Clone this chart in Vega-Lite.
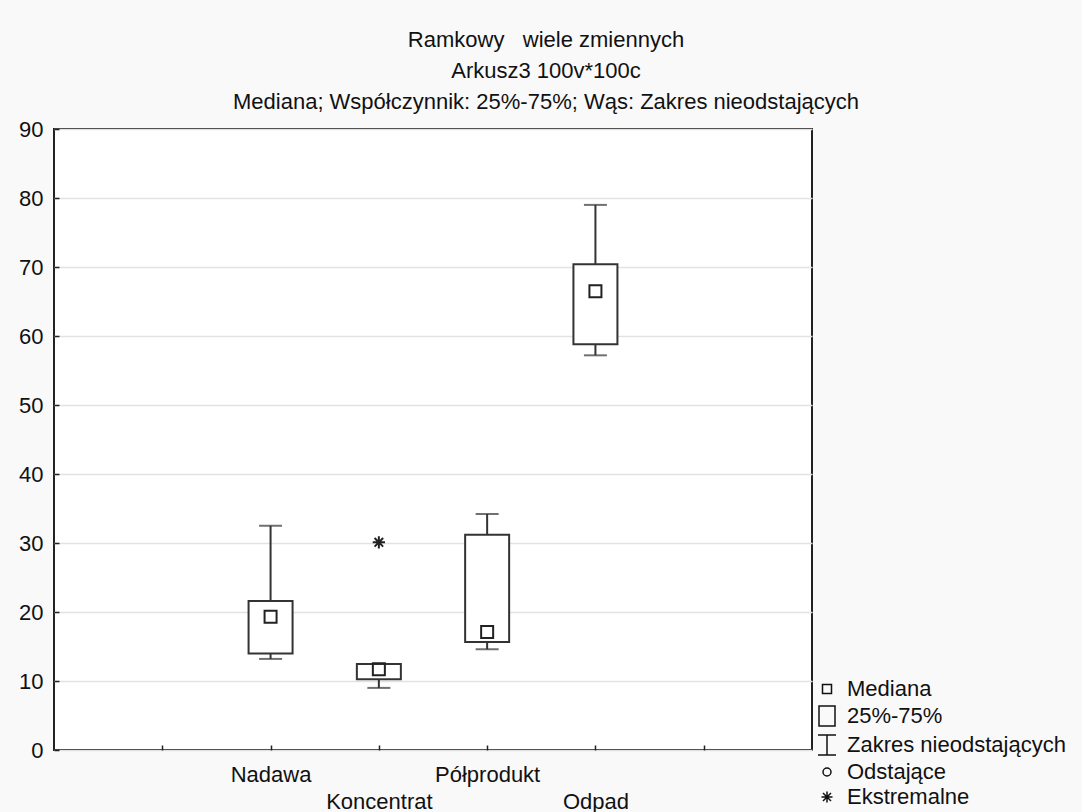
{
  "$schema": "https://vega.github.io/schema/vega-lite/v6.json",
  "width": 758,
  "height": 621,
  "autosize": {"type": "none"},
  "padding": {"left": 54, "top": 129, "right": 270, "bottom": 62},
  "background": "#f9f9f9",
  "config": {
    "font": "Liberation Sans",
    "view": {"fill": "white", "stroke": "#222222", "strokeWidth": 2}
  },
  "title": {
    "text": ["Ramkowy \u00a0 wiele zmiennych", "Arkusz3 100v*100c", "Mediana; Współczynnik: 25%-75%; Wąs: Zakres nieodstających"],
    "fontSize": 22,
    "fontWeight": "normal",
    "color": "#111111",
    "lineHeight": 31,
    "offset": 4,
    "dx": 113,
    "anchor": "middle"
  },
  "datasets": {
    "stats": [
      {"zmienna": "Nadawa", "min": 13.2, "q1": 14.0, "mediana": 19.3, "q3": 21.6, "max": 32.5},
      {"zmienna": "Koncentrat", "min": 9.0, "q1": 10.25, "mediana": 11.7, "q3": 12.45, "max": 12.45},
      {"zmienna": "Półprodukt", "min": 14.6, "q1": 15.65, "mediana": 17.1, "q3": 31.2, "max": 34.2},
      {"zmienna": "Odpad", "min": 57.2, "q1": 58.8, "mediana": 66.5, "q3": 70.4, "max": 79.0}
    ],
    "ekstremalne": [
      {"zmienna": "Koncentrat", "wartosc": 30.1}
    ],
    "legenda": [
      {"pozycja": "Mediana"},
      {"pozycja": "25%-75%"},
      {"pozycja": "Zakres nieodstających"},
      {"pozycja": "Odstające"},
      {"pozycja": "Ekstremalne"}
    ]
  },
  "encoding": {
    "x": {
      "field": "zmienna",
      "type": "nominal",
      "scale": {"type": "point", "domain": ["_a", "Nadawa", "Koncentrat", "Półprodukt", "Odpad", "_b"], "padding": 1},
      "axis": {
        "title": null,
        "labelAngle": 0,
        "labelExpr": "slice(datum.value, 0, 1) == '_' ? '' : (datum.value == 'Koncentrat' || datum.value == 'Odpad' ? ['', datum.value] : datum.value)",
        "labelFontSize": 22,
        "labelLineHeight": 27,
        "labelColor": "#111111",
        "labelPadding": 19,
        "labelBaseline": "top",
        "tickSize": -5,
        "tickColor": "#222222",
        "tickWidth": 1.5,
        "domain": false,
        "grid": false
      }
    }
  },
  "layer": [
    {
      "data": {"name": "stats"},
      "mark": {"type": "rule", "color": "#333333", "strokeWidth": 2},
      "encoding": {
        "y": {
          "field": "min", "type": "quantitative",
          "scale": {"domain": [0, 90], "nice": false},
          "axis": {
            "title": null,
            "values": [0, 10, 20, 30, 40, 50, 60, 70, 80, 90],
            "labelFontSize": 22,
            "labelColor": "#111111",
            "labelPadding": 16,
            "tickSize": -5,
            "tickColor": "#222222",
            "tickWidth": 1.5,
            "domain": false,
            "grid": true,
            "gridColor": "#e2e2e2",
            "gridWidth": 1.5
          }
        },
        "y2": {"field": "q1"}
      }
    },
    {
      "data": {"name": "stats"},
      "mark": {"type": "rule", "color": "#333333", "strokeWidth": 2},
      "encoding": {
        "y": {"field": "q3", "type": "quantitative"},
        "y2": {"field": "max"}
      }
    },
    {
      "data": {"name": "stats"},
      "mark": {"type": "tick", "color": "#333333", "size": 23, "thickness": 2},
      "encoding": {"y": {"field": "min", "type": "quantitative"}}
    },
    {
      "data": {"name": "stats"},
      "mark": {"type": "tick", "color": "#333333", "size": 23, "thickness": 2},
      "encoding": {"y": {"field": "max", "type": "quantitative"}}
    },
    {
      "data": {"name": "stats"},
      "mark": {"type": "bar", "width": 44, "fill": "white", "stroke": "#333333", "strokeWidth": 2},
      "encoding": {
        "y": {"field": "q1", "type": "quantitative"},
        "y2": {"field": "q3"}
      }
    },
    {
      "data": {"name": "stats"},
      "mark": {"type": "point", "shape": "square", "size": 144, "filled": false, "stroke": "#222222", "strokeWidth": 2, "opacity": 1},
      "encoding": {"y": {"field": "mediana", "type": "quantitative"}}
    },
    {
      "data": {"name": "ekstremalne"},
      "mark": {"type": "point", "shape": "M-1,0L1,0M0,-1L0,1M-0.7,-0.7L0.7,0.7M-0.7,0.7L0.7,-0.7", "size": 150, "filled": false, "stroke": "#222222", "strokeWidth": 2, "opacity": 1},
      "encoding": {"y": {"field": "wartosc", "type": "quantitative"}}
    },
    {
      "data": {"name": "legenda"},
      "mark": {"type": "point", "opacity": 0, "filled": false},
      "encoding": {
        "shape": {
          "field": "pozycja",
          "type": "nominal",
          "scale": {
            "domain": ["Mediana", "25%-75%", "Zakres nieodstających", "Odstające", "Ekstremalne"],
            "range": [
              "M-0.45,-0.45H0.45V0.45H-0.45Z",
              "M-0.8,-1H0.8V1H-0.8Z",
              "M-0.9,-1H0.9M0,-1V1M-0.9,1H0.9",
              "M0.4,0A0.4,0.4 0 1,1 -0.4,0A0.4,0.4 0 1,1 0.4,0",
              "M-0.55,0L0.55,0M0,-0.55L0,0.55M-0.4,-0.4L0.4,0.4M-0.4,0.4L0.4,-0.4"
            ]
          },
          "legend": {
            "title": null,
            "orient": "none",
            "legendX": 762,
            "legendY": 549,
            "padding": 0,
            "symbolSize": 400,
            "symbolOpacity": 1,
            "symbolFillColor": "transparent",
            "symbolStrokeColor": "#111111",
            "symbolStrokeWidth": 1.5,
            "labelFontSize": 22,
            "labelColor": "#111111",
            "labelOffset": 9,
            "rowPadding": 3,
            "labelLimit": 400
          }
        }
      }
    }
  ]
}
